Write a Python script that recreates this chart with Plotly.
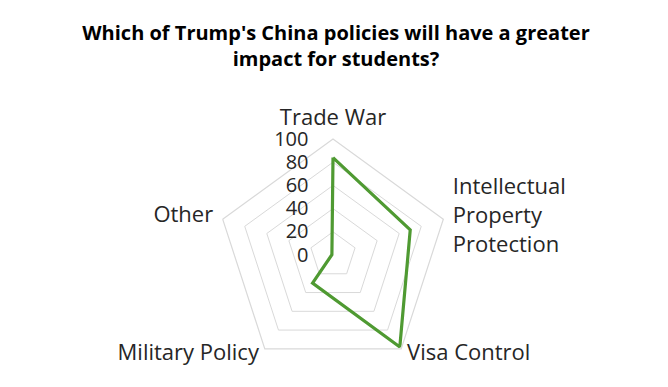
import plotly.graph_objects as go

categories = ["Trade War", "Intellectual<br>Property<br>Protection", "Visa Control", "Military Policy", "Other"]
values = [84, 70, 98, 30, 1]
radial_ticks = [0, 20, 40, 60, 80, 100]

# the page body keeps an 8px margin, so the figure is sized to fit inside it
W, H = 652, 371
cx, cy, R = 325, 247, 116

# spacer lines so the axis labels sit where the original chart puts them
NB = "\u00a0"
lead = [0, 1, 0, 0, 0]
trail = [0, 0, 7, 7, 0]
ticktext = [(NB + "<br>") * a + c + ("<br>" + NB) * b for c, a, b in zip(categories, lead, trail)]

fig = go.Figure()
fig.add_trace(go.Scatterpolar(
    r=values + values[:1],
    theta=categories + categories[:1],
    mode="lines",
    line=dict(color="#4f9a32", width=3.2),
    hoverinfo="skip",
    showlegend=False,
))

fig.update_layout(
    width=W, height=H,
    margin=dict(l=0, r=0, t=0, b=0),
    paper_bgcolor="white",
    plot_bgcolor="white",
    font=dict(family="Open Sans, sans-serif", color="#262626"),
    title=dict(
        text="Which of Trump's China policies will have a greater<br>impact for students?",
        x=328 / W, xanchor="center", y=1 - 31.5 / H, yanchor="middle",
        font=dict(family="Open Sans", size=20, color="#000000", weight="bold"),
    ),
    polar=dict(
        domain=dict(x=[(cx - R) / W, (cx + R) / W], y=[(H - cy - R) / H, (H - cy + R) / H]),
        gridshape="linear",
        bgcolor="white",
        angularaxis=dict(
            rotation=90, direction="clockwise",
            tickmode="array", tickvals=categories, ticktext=ticktext,
            showgrid=False, showline=True, linecolor="#d9d9d9", linewidth=1.2,
            ticks="outside", ticklen=5, tickcolor="rgba(0,0,0,0)",
            tickfont=dict(size=22, color="#262626"),
        ),
        radialaxis=dict(
            range=[0, 100], tickvals=radial_ticks, ticktext=[str(v) for v in radial_ticks],
            angle=90, tickangle=90, side="counterclockwise",
            showline=False, ticks="outside", ticklen=17, tickcolor="rgba(0,0,0,0)",
            showgrid=True, gridcolor="#d9d9d9", gridwidth=1.2,
            tickfont=dict(size=20, color="#262626"),
        ),
    ),
)

fig.write_html("out.html")
